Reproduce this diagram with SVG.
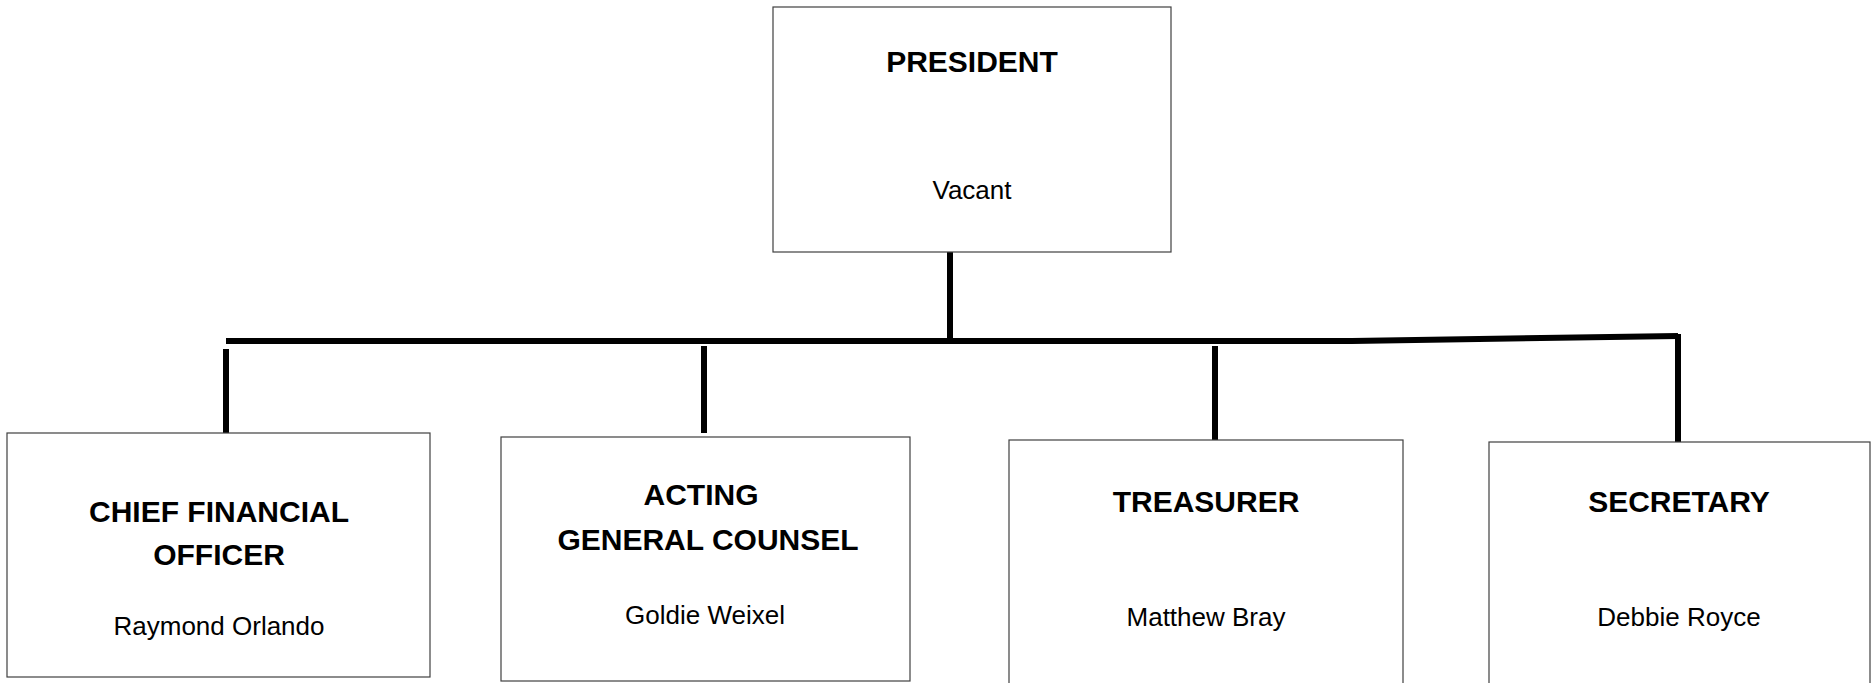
<svg xmlns="http://www.w3.org/2000/svg" width="1875" height="683" viewBox="0 0 1875 683">
<style>
.box{fill:#fff;stroke:#404040;stroke-width:1.2}
.t{font-family:"Liberation Sans",Arial,sans-serif;font-weight:bold;font-size:30px;fill:#000;text-anchor:middle}
.n{font-family:"Liberation Sans",Arial,sans-serif;font-size:26px;fill:#000;text-anchor:middle}
.c{stroke:#000;stroke-width:6;fill:none}
</style>
<rect width="1875" height="683" fill="#fff"/>
<g id="connectors">
<line class="c" x1="950" y1="249" x2="950" y2="338"/>
<polyline class="c" points="226,341 1352,341 1678,336"/>
<line class="c" x1="226" y1="349" x2="226" y2="437"/>
<line class="c" x1="704" y1="346" x2="704" y2="433"/>
<line class="c" x1="1215" y1="346" x2="1215" y2="442"/>
<line class="c" x1="1678" y1="334" x2="1678" y2="442"/>
</g>
<g id="president">
<rect class="box" x="773" y="7" width="398" height="245"/>
<text class="t" x="972" y="72">PRESIDENT</text>
<text class="n" x="972" y="199">Vacant</text>
</g>
<g id="cfo">
<rect class="box" x="7" y="433" width="423" height="244"/>
<text class="t" x="219" y="522">CHIEF FINANCIAL</text>
<text class="t" x="219" y="565">OFFICER</text>
<text class="n" x="219" y="635">Raymond Orlando</text>
</g>
<g id="counsel">
<rect class="box" x="501" y="437" width="409" height="244"/>
<text class="t" x="701" y="505">ACTING</text>
<text class="t" x="708" y="550">GENERAL COUNSEL</text>
<text class="n" x="705" y="624">Goldie Weixel</text>
</g>
<g id="treasurer">
<rect class="box" x="1009" y="440" width="394" height="260"/>
<text class="t" x="1206" y="512">TREASURER</text>
<text class="n" x="1206" y="626">Matthew Bray</text>
</g>
<g id="secretary">
<rect class="box" x="1489" y="442" width="381" height="260"/>
<text class="t" x="1679" y="512">SECRETARY</text>
<text class="n" x="1679" y="626">Debbie Royce</text>
</g>
</svg>
